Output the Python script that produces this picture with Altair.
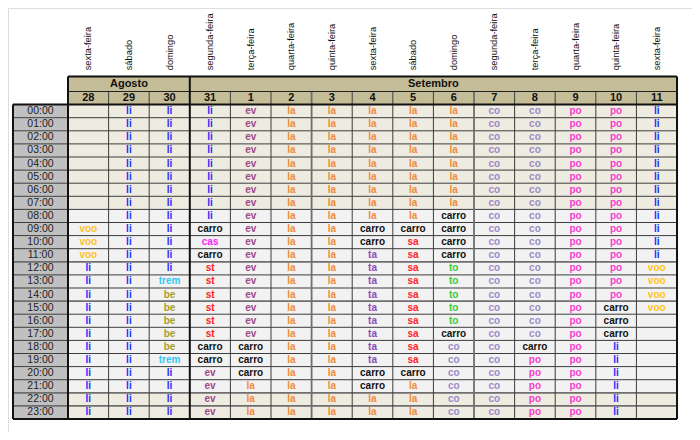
import altair as alt
import pandas as pd

# ---------------- data ----------------
weekdays = ["sexta-feira", "sábado", "domingo", "segunda-feira", "terça-feira",
            "quarta-feira", "quinta-feira", "sexta-feira", "sábado", "domingo",
            "segunda-feira", "terça-feira", "quarta-feira", "quinta-feira", "sexta-feira"]
dates = ["28", "29", "30", "31", "1", "2", "3", "4", "5", "6", "7", "8", "9", "10", "11"]
months = ["Agosto", "Setembro"]
month_start = [0, 3]
month_end = [3, 15]
hours = ["00:00", "01:00", "02:00", "03:00", "04:00", "05:00", "06:00", "07:00",
         "08:00", "09:00", "10:00", "11:00", "12:00", "13:00", "14:00", "15:00",
         "16:00", "17:00", "18:00", "19:00", "20:00", "21:00", "22:00", "23:00"]
row_shade = ["n", "n", "n", "n", "n", "n", "n", "n",
             "d", "d", "d", "d", "d", "d", "d", "d",
             "d", "d", "d", "d", "d", "d", "n", "n"]

d28 = ["", "", "", "", "", "", "", "", "", "voo", "voo", "voo",
       "li", "li", "li", "li", "li", "li", "li", "li", "li", "li", "li", "li"]
d29 = ["li", "li", "li", "li", "li", "li", "li", "li", "li", "li", "li", "li",
       "li", "li", "li", "li", "li", "li", "li", "li", "li", "li", "li", "li"]
d30 = ["li", "li", "li", "li", "li", "li", "li", "li", "li", "li", "li", "li",
       "li", "trem", "be", "be", "be", "be", "be", "trem", "li", "li", "li", "li"]
d31 = ["li", "li", "li", "li", "li", "li", "li", "li", "li", "carro", "cas", "carro",
       "st", "st", "st", "st", "st", "st", "carro", "carro", "ev", "ev", "ev", "ev"]
d01 = ["ev", "ev", "ev", "ev", "ev", "ev", "ev", "ev", "ev", "ev", "ev", "ev",
       "ev", "ev", "ev", "ev", "ev", "ev", "carro", "carro", "carro", "la", "la", "la"]
d02 = ["la", "la", "la", "la", "la", "la", "la", "la", "la", "la", "la", "la",
       "la", "la", "la", "la", "la", "la", "la", "la", "la", "la", "la", "la"]
d03 = ["la", "la", "la", "la", "la", "la", "la", "la", "la", "la", "la", "la",
       "la", "la", "la", "la", "la", "la", "la", "la", "la", "la", "la", "la"]
d04 = ["la", "la", "la", "la", "la", "la", "la", "la", "la", "carro", "carro", "ta",
       "ta", "ta", "ta", "ta", "ta", "ta", "ta", "ta", "carro", "carro", "la", "la"]
d05 = ["la", "la", "la", "la", "la", "la", "la", "la", "la", "carro", "sa", "sa",
       "sa", "sa", "sa", "sa", "sa", "sa", "sa", "sa", "carro", "la", "la", "la"]
d06 = ["la", "la", "la", "la", "la", "la", "la", "la", "carro", "carro", "carro", "carro",
       "to", "to", "to", "to", "to", "carro", "co", "co", "co", "co", "co", "co"]
d07 = ["co", "co", "co", "co", "co", "co", "co", "co", "co", "co", "co", "co",
       "co", "co", "co", "co", "co", "co", "co", "co", "co", "co", "co", "co"]
d08 = ["co", "co", "co", "co", "co", "co", "co", "co", "co", "co", "co", "co",
       "co", "co", "co", "co", "co", "co", "carro", "po", "po", "po", "po", "po"]
d09 = ["po", "po", "po", "po", "po", "po", "po", "po", "po", "po", "po", "po",
       "po", "po", "po", "po", "po", "po", "po", "po", "po", "po", "po", "po"]
d10 = ["po", "po", "po", "po", "po", "po", "po", "po", "po", "po", "po", "po",
       "po", "po", "po", "carro", "carro", "carro", "li", "li", "li", "li", "li", "li"]
d11 = ["li", "li", "li", "li", "li", "li", "li", "li", "li", "li", "li", "li",
       "voo", "voo", "voo", "voo", "", "", "", "", "", "", "", ""]
day_columns = [d28, d29, d30, d31, d01, d02, d03, d04, d05, d06, d07, d08, d09, d10, d11]

codes = ["li", "ev", "la", "co", "po", "carro", "voo", "cas", "st", "trem", "be", "ta", "sa", "to"]
code_colors = ["#2B2BFF", "#A04A8A", "#F08A3C", "#9A8CC8", "#F83ECF", "#111111", "#FFC21F",
               "#FF1EFF", "#FF2020", "#2EC8F5", "#A89E2E", "#8A4DB6", "#FF2626", "#3ACB3A"]

# ---------------- layout (column / row units) ----------------
TW = 1.355          # width of the hour column
MTOP = -2.15        # top of month header row
FONT = "Liberation Sans"
XD = [-1.4778, 15.369]
YD = [-7.374, 24.992]

cells = []
for c, col in enumerate(day_columns):
    for r, code in enumerate(col):
        cells.append(dict(u=c, u2=c + 1, uc=c + 0.5, r=r, r2=r + 1, rc=r + 0.5,
                          code=code, shade=row_shade[r]))
cells = pd.DataFrame(cells)

hours_df = pd.DataFrame(dict(hour=hours, r=list(range(24))))
hours_df["r2"] = hours_df["r"] + 1
hours_df["rc"] = hours_df["r"] + 0.5
hours_df["u"] = -TW
hours_df["u2"] = 0.0
hours_df["uc"] = -TW / 2

dates_df = pd.DataFrame(dict(date=dates, wd=weekdays, u=list(range(15))))
dates_df["u2"] = dates_df["u"] + 1
dates_df["uc"] = dates_df["u"] + 0.5

months_df = pd.DataFrame(dict(month=months, u=month_start, u2=month_end))
months_df["uc"] = (months_df["u"] + months_df["u2"]) / 2

lines = []
for r in range(1, 24):
    w, colr = (1.0, "#3C3C3C")
    if r in (12, 15, 22, 23):
        w, colr = (1.8, "#6E6E6E")
    lines.append(dict(x=-TW, x2=15, y=r, y2=r, w=w, c=colr))
for u in range(1, 15):
    if u == 3:
        continue
    w, colr = (1.0, "#3C3C3C")
    if u in (6, 10):
        w, colr = (1.8, "#6E6E6E")
    lines.append(dict(x=u, x2=u, y=-1, y2=24, w=w, c=colr))
lines.append(dict(x=0, x2=15, y=-1, y2=-1, w=1.2, c="#222222"))
lines.append(dict(x=-TW, x2=-TW, y=0, y2=24, w=2.0, c="#111111"))
for u in (0, 3, 15):
    lines.append(dict(x=u, x2=u, y=MTOP, y2=24, w=2.0, c="#111111"))
lines.append(dict(x=0, x2=15, y=MTOP, y2=MTOP, w=2.0, c="#111111"))
lines.append(dict(x=-TW, x2=15, y=0, y2=0, w=2.0, c="#111111"))
lines.append(dict(x=-TW, x2=15, y=24, y2=24, w=2.0, c="#111111"))
lines = pd.DataFrame(lines)

xs = alt.Scale(domain=XD, nice=False, zero=False)
ys = alt.Scale(domain=YD, nice=False, zero=False, reverse=True)


def X(f):
    return alt.X(f, scale=xs, axis=None)


def Y(f):
    return alt.Y(f, scale=ys, axis=None)


bg = alt.Chart(cells).mark_rect().encode(
    x=X("u:Q"), x2="u2:Q", y=Y("r:Q"), y2="r2:Q",
    fill=alt.Fill("shade:N", scale=alt.Scale(domain=["n", "d"], range=["#EEEBE0", "#F2F2F2"]),
                  legend=None),
)

hour_bg = alt.Chart(hours_df).mark_rect(color="#C0C0C0").encode(
    x=X("u:Q"), x2="u2:Q", y=Y("r:Q"), y2="r2:Q")

month_bg = alt.Chart(months_df).mark_rect(color="#C4BD97").encode(
    x=X("u:Q"), x2="u2:Q", y=Y("y:Q"), y2="y2:Q").transform_calculate(y=str(MTOP), y2="-1")

date_bg = alt.Chart(dates_df).mark_rect(color="#C4BD97").encode(
    x=X("u:Q"), x2="u2:Q", y=Y("y:Q"), y2="y2:Q").transform_calculate(y="-1", y2="0")

rules = alt.Chart(lines).mark_rule().encode(
    x=X("x:Q"), x2="x2:Q", y=Y("y:Q"), y2="y2:Q",
    strokeWidth=alt.StrokeWidth("w:Q", scale=None),
    color=alt.Color("c:N", scale=None),
)

cell_text = alt.Chart(cells).mark_text(font=FONT, fontSize=10, fontWeight="bold",
                                       baseline="middle", align="center").encode(
    x=X("uc:Q"), y=Y("rc:Q"), text="code:N",
    color=alt.Color("code:N", scale=alt.Scale(domain=codes, range=code_colors), legend=None),
)

hour_text = alt.Chart(hours_df).mark_text(font=FONT, fontSize=10.5, color="#1E1E1E",
                                          baseline="middle", align="center").encode(
    x=X("uc:Q"), y=Y("rc:Q"), text="hour:N")

month_text = alt.Chart(months_df).mark_text(font=FONT, fontSize=11, fontWeight="bold",
                                            color="#111111", baseline="middle",
                                            align="center").encode(
    x=X("uc:Q"), y=alt.Y(datum=-1.55, scale=ys, axis=None), text="month:N")

date_text = alt.Chart(dates_df).mark_text(font=FONT, fontSize=11, fontWeight="bold",
                                          color="#111111", baseline="middle",
                                          align="center").encode(
    x=X("uc:Q"), y=alt.Y(datum=-0.48, scale=ys, axis=None), text="date:N")

wd_text = alt.Chart(dates_df).mark_text(font=FONT, fontSize=9.3, color="#111111", angle=270,
                                        baseline="middle", align="left").encode(
    x=X("uc:Q"), y=alt.Y(datum=-2.62, scale=ys, axis=None), text="wd:N")

chart = alt.layer(
    bg, hour_bg, month_bg, date_bg, rules, cell_text, hour_text, month_text, date_text, wd_text
).properties(
    width=684, height=424, padding=0,
    autosize=alt.AutoSizeParams(type="none"),
).configure_view(stroke=None).configure(background="white")

chart.save("out.html", embed_options={"renderer": "svg", "actions": False})
